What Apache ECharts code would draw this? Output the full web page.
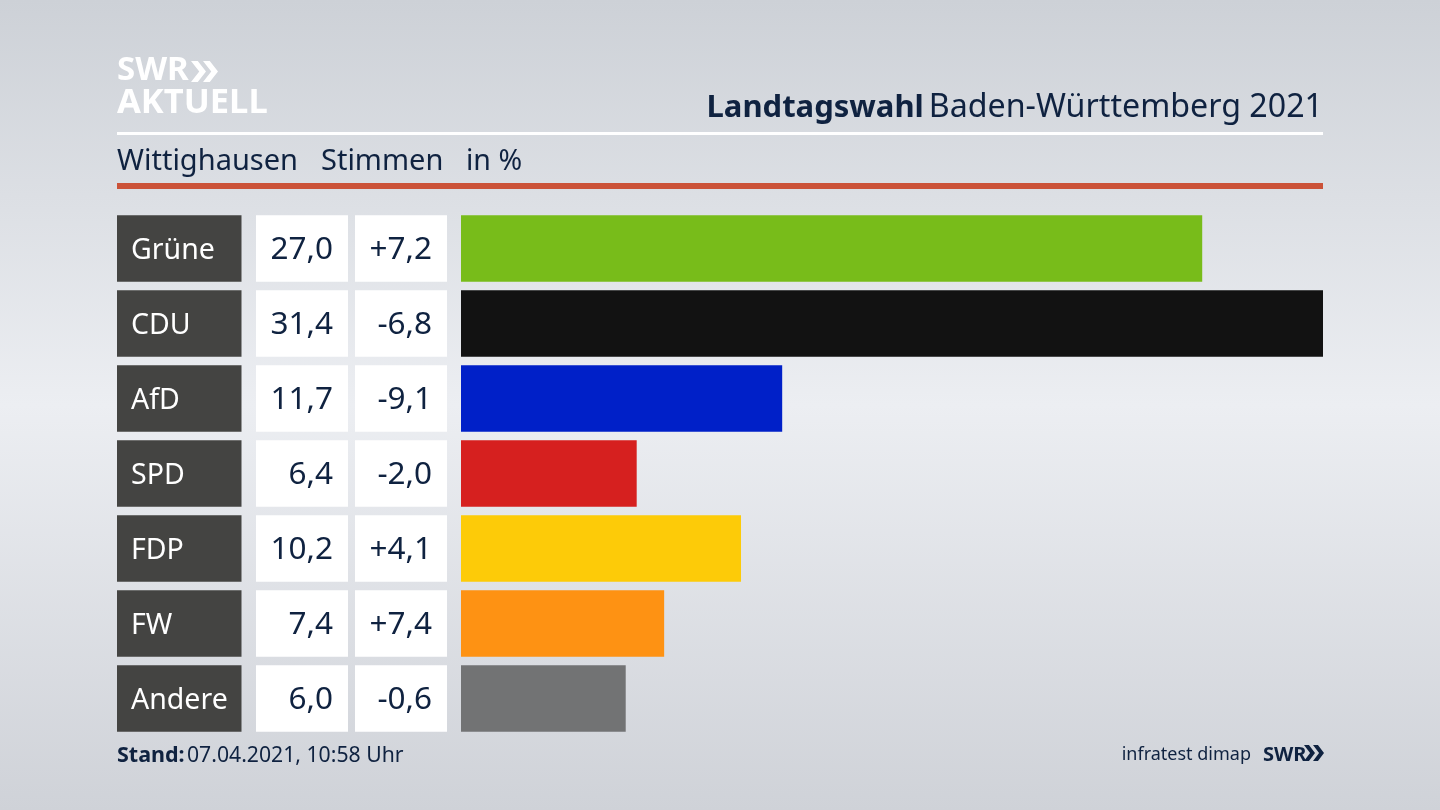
<!DOCTYPE html>
<html><head><meta charset="utf-8">
<style>html,body{margin:0;padding:0;background:#d5d8de}#c{width:1440px;height:810px}</style>
<script src="https://cdn.jsdelivr.net/npm/echarts@6/dist/echarts.min.js"></script>
</head><body><div id="c"></div>
<script>
const parties = ['Grüne','CDU','AfD','SPD','FDP','FW','Andere'];
const shares = [27.0,31.4,11.7,6.4,10.2,7.4,6.0];
const shareLabels = ['27,0','31,4','11,7','6,4','10,2','7,4','6,0'];
const changeLabels = ['+7,2','-6,8','-9,1','-2,0','+4,1','+7,4','-0,6'];
const colors = ['#78bc1a','#121212','#0020c8','#d6201f','#fdcb08','#fe9213','#727374'];
const NAVY = '#0f2240', FONT = '"Noto Sans","Open Sans",sans-serif';
const chart = echarts.init(document.getElementById('c'), null, {renderer:'canvas'});

function chevron(x, y, w, h, fill){
  return {type:'polygon', shape:{points:[[x,y],[x+w*0.45,y],[x+w,y+h/2],[x+w*0.45,y+h],[x,y+h],[x+w*0.55,y+h/2]]}, style:{fill}};
}
function cellRender(params, api){
  const i = params.dataIndex;
  const cy = api.coord([0,i])[1];
  const h = 66.5, top = cy-h/2;
  const txt = (x,text,fill,align,size)=>({type:'text',style:{x,y:cy+2,text,fill,align,verticalAlign:'middle',font:size+'px '+FONT}});
  return {type:'group',children:[
    {type:'rect',shape:{x:117,y:top,width:124.5,height:h},style:{fill:'#444442'}},
    {type:'rect',shape:{x:256,y:top,width:92,height:h},style:{fill:'#ffffff'}},
    {type:'rect',shape:{x:355,y:top,width:92,height:h},style:{fill:'#ffffff'}},
    txt(131,parties[i],'#ffffff','left',28.5),
    txt(333,shareLabels[i],NAVY,'right',31.5),
    txt(432,changeLabels[i],NAVY,'right',31.5)
  ]};
}
chart.setOption({
  animation:false,
  backgroundColor:{type:'linear',x:0,y:0,x2:0,y2:1,colorStops:[{offset:0,color:'#cdd1d7'},{offset:0.5,color:'#eceef2'},{offset:1,color:'#cfd2d8'}]},
  title:{right:117,top:92,padding:0,text:'{b|Landtagswahl} {n|Baden-Württemberg 2021}',
    textStyle:{rich:{b:{fontFamily:FONT,fontWeight:'bold',fontSize:31,color:NAVY},n:{fontFamily:FONT,fontWeight:'normal',fontSize:32.2,color:NAVY}}}},
  grid:{left:461,right:117,top:211,bottom:74,containLabel:false},
  xAxis:{type:'value',min:0,max:31.4,show:false},
  yAxis:{type:'category',data:parties,inverse:true,show:false},
  series:[
    {type:'bar',barWidth:66.5,data:shares.map((v,i)=>({value:v,itemStyle:{color:colors[i]}})),silent:true},
    {type:'custom',data:parties.map((p,i)=>[0,i]),renderItem:cellRender,silent:true,encode:{x:0,y:1}}
  ],
  graphic:[
    {type:'text',style:{x:117,y:71,text:'SWR',fill:'#ffffff',font:'bold 33px '+FONT,verticalAlign:'middle'}},
    chevron(191,61,15,21,'#ffffff'),chevron(203,61,15,21,'#ffffff'),
    {type:'text',style:{x:117,y:103,text:'AKTUELL',fill:'#ffffff',font:'bold 34.5px '+FONT,verticalAlign:'middle'}},
    {type:'rect',shape:{x:117,y:132,width:1206,height:3},style:{fill:'#ffffff'}},
    {type:'rect',shape:{x:117,y:183,width:1206,height:6},style:{fill:'#cb5238'}},
    {type:'text',style:{x:117,y:162,text:'Wittighausen',fill:NAVY,font:'29px '+FONT,verticalAlign:'middle'}},
    {type:'text',style:{x:321,y:162,text:'Stimmen',fill:NAVY,font:'29px '+FONT,verticalAlign:'middle'}},
    {type:'text',style:{x:466,y:162,text:'in %',fill:NAVY,font:'28.5px '+FONT,verticalAlign:'middle'}},
    {type:'text',style:{x:117,y:756,text:'Stand:',fill:NAVY,font:'bold 21.5px '+FONT,verticalAlign:'middle'}},
    {type:'text',style:{x:187,y:756,text:'07.04.2021, 10:58 Uhr',fill:NAVY,font:'21.2px '+FONT,verticalAlign:'middle'}},
    {type:'text',style:{x:1251,y:755,text:'infratest dimap',fill:NAVY,font:'18px '+FONT,align:'right',verticalAlign:'middle'}},
    {type:'text',style:{x:1263,y:755,text:'SWR',fill:NAVY,font:'bold 20px '+FONT,verticalAlign:'middle'}},
    chevron(1304,745,11,16,NAVY),chevron(1313,745,11,16,NAVY)
  ]
});
</script></body></html>
